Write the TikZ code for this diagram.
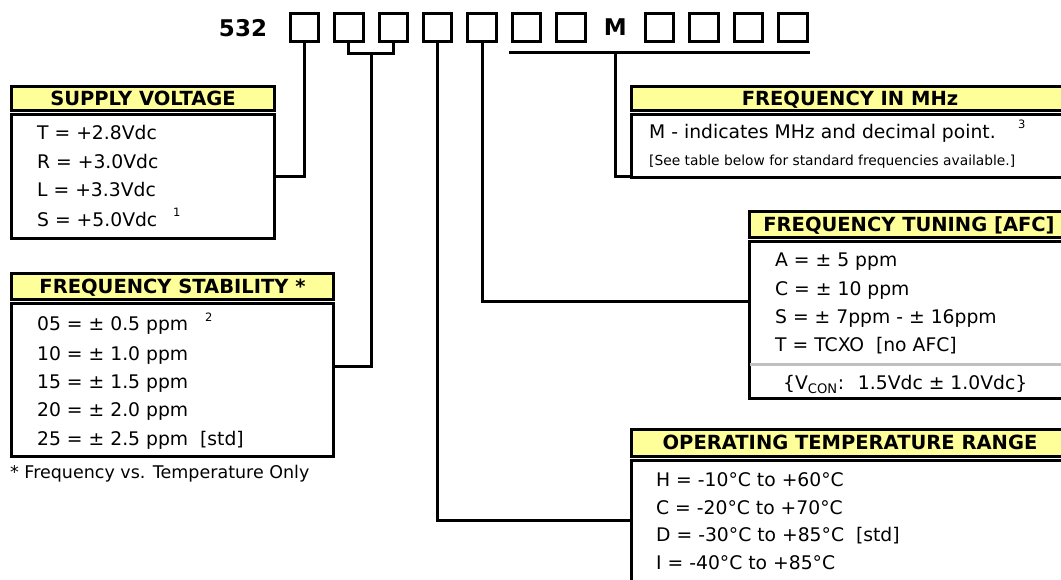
\documentclass[tikz,border=0pt]{standalone}
\usepackage{fontspec}
\setmainfont{DejaVu Sans}
\usetikzlibrary{calc}
\definecolor{hdyellow}{HTML}{FFFF99}
\definecolor{sepgrey}{HTML}{C0C0C0}
\begin{document}
\begin{tikzpicture}[x=1pt,y=-1pt,line join=miter,
  codebox/.style={draw,line width=3pt,minimum width=28.5pt,minimum height=28.5pt,inner sep=0pt},
  hdr/.style={draw,line width=3pt,fill=hdyellow,inner sep=0pt,text height=14.2pt,text depth=0pt,
    font=\bfseries\fontsize{19.5}{22}\selectfont},
  bodybox/.style={draw,line width=3pt,inner sep=0pt},
  txt/.style={anchor=base west,inner sep=0pt,font=\fontsize{18.75}{22}\selectfont},
  smalltxt/.style={anchor=base west,inner sep=0pt,font=\fontsize{13.8}{16}\selectfont},
  notetxt/.style={anchor=base west,inner sep=0pt,font=\fontsize{17.5}{20}\selectfont},
  suptxt/.style={anchor=base west,inner sep=0pt,font=\fontsize{11.5}{12}\selectfont},
  codetxt/.style={inner sep=0pt,font=\bfseries\fontsize{23}{26}\selectfont},
  conn/.style={line width=3pt}]
\useasboundingbox (0,0) rectangle (1061,580);
\clip (0,0) rectangle (1061,580);

% ---- part number row
\node[codetxt] (pn) at (243,28) {532};
\node[codebox] (b1) at (304.5,27.5) {};
\node[codebox] (b2) at (348.9,27.5) {};
\node[codebox] (b3) at (393.3,27.5) {};
\node[codebox] (b4) at (437.7,27.5) {};
\node[codebox] (b5) at (482.1,27.5) {};
\node[codebox] (b6) at (526.5,27.5) {};
\node[codebox] (b7) at (570.9,27.5) {};
\node[codetxt,font=\bfseries\fontsize{23}{26}\selectfont] (mk) at (615.3,27) {M};
\node[codebox] (b8) at (659.7,27.5) {};
\node[codebox] (b9) at (704.1,27.5) {};
\node[codebox] (b10) at (748.5,27.5) {};
\node[codebox] (b11) at (792.9,27.5) {};

% ---- SUPPLY VOLTAGE
\node[hdr,minimum width=263pt,minimum height=24.5pt] (svh) at (143,98.75) {SUPPLY VOLTAGE};
\node[bodybox,minimum width=263pt,minimum height=123.5pt] (sv) at (143,176.75) {};
\node[txt] (sv1) at (37,140) {T = +2.8Vdc};
\node[txt] (sv2) at (37,168.5) {R = +3.0Vdc};
\node[txt] (sv3) at (37,197) {L = +3.3Vdc};
\node[txt] (sv4) at (37,226.5) {S = +5.0Vdc};
\node[suptxt] (sv4n) at (173,217) {1};

% ---- FREQUENCY STABILITY
\node[hdr,minimum width=322pt,minimum height=26.5pt] (fsh) at (172.5,286.75) {FREQUENCY STABILITY *};
\node[bodybox,minimum width=322pt,minimum height=152.5pt] (fs) at (172.5,380.25) {};
\node[txt] (fs1) at (37,330.5) {05 = ± 0.5 ppm};
\node[suptxt] (fs1n) at (205,321) {2};
\node[txt] (fs2) at (37,360.5) {10 = ± 1.0 ppm};
\node[txt] (fs3) at (37,388.5) {15 = ± 1.5 ppm};
\node[txt] (fs4) at (37,416.5) {20 = ± 2.0 ppm};
\node[txt] (fs5) at (37,445) {25 = ± 2.5 ppm ~[std]};
\node[notetxt] (fsnote) at (10,478) {* Frequency vs. Temperature Only};

% ---- FREQUENCY IN MHz
\node[hdr,minimum width=437pt,minimum height=24.5pt] (mhh) at (850,98.75) {FREQUENCY IN MHz};
\node[bodybox,minimum width=437pt,minimum height=62.5pt] (mh) at (850,146.25) {};
\node[txt] (mh1) at (649,139) {M - indicates MHz and decimal point.};
\node[suptxt] (mh1n) at (1018,129) {3};
\node[smalltxt] (mh2) at (649,166) {[See table below for standard frequencies available.]};

% ---- FREQUENCY TUNING
\node[hdr,minimum width=319pt,minimum height=26.5pt] (tuh) at (909,224.75) {FREQUENCY TUNING [AFC]};
\node[bodybox,minimum width=319pt,minimum height=156.5pt] (tu) at (909,320.25) {};
\node[txt] (tu1) at (775,266.5) {A = ± 5 ppm};
\node[txt] (tu2) at (775,295.5) {C = ± 10 ppm};
\node[txt] (tu3) at (775,323.5) {S = ± 7ppm - ± 16ppm};
\node[txt] (tu4) at (775,351.5) {T = TCXO ~[no AFC]};
\coordinate (rowG) at (0,364);
\draw[sepgrey,line width=3pt] ([xshift=2pt]tu.west |- rowG) -- (tu.east |- rowG);
\node[txt] (tu5) at (783,389.5) {\{V\textsubscript{CON}: ~1.5Vdc ± 1.0Vdc\}};

% ---- OPERATING TEMPERATURE RANGE
\node[hdr,minimum width=437pt,minimum height=26.5pt] (tph) at (850,442.75) {OPERATING TEMPERATURE RANGE};
\node[bodybox,minimum width=437pt,minimum height=140pt] (tp) at (850,530) {};
\node[txt] (tp1) at (656,486.5) {H = -10°C to +60°C};
\node[txt] (tp2) at (656,514) {C = -20°C to +70°C};
\node[txt] (tp3) at (656,541.5) {D = -30°C to +85°C ~[std]};
\node[txt] (tp4) at (656,569) {I = -40°C to +85°C};

% ---- connectors
\coordinate (rowA) at (0,54);
\coordinate (rowB) at (0,53);
\coordinate (rowFS) at (0,366);
\coordinate (rowTU) at (0,302);
\coordinate (rowTP) at (0,520);
\coordinate (rowMH) at (0,177);
\draw[conn] (b1.south) |- (sv.east);
\draw[conn] (b2.south) -- (b2.south |- rowA) -- (b3.south |- rowA) -- (b3.south);
\coordinate (j23) at ($(b2.south |- rowA)!0.5!(b3.south |- rowA)$);
\draw[conn] (j23) |- (fs.east |- rowFS);
\draw[conn] (b4.south) |- (tp.west |- rowTP);
\draw[conn] (b5.south) |- (tu.west |- rowTU);
\draw[conn] ([xshift=-1.5pt]b6.south west |- rowB) -- ([xshift=1.5pt]b11.south east |- rowB);
\draw[conn] (mk.center |- rowB) |- (mh.west |- rowMH);
\end{tikzpicture}
\end{document}
